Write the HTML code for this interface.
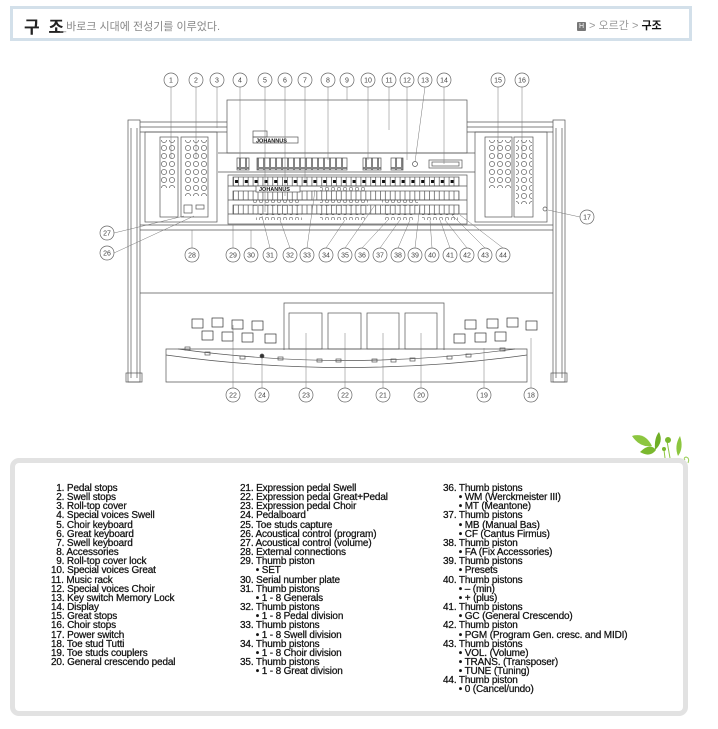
<!DOCTYPE html>
<html><head><meta charset="utf-8"><style>
html,body{margin:0;padding:0;background:#fff;width:718px;height:729px;overflow:hidden;position:relative;font-family:"Liberation Sans","Noto Sans CJK KR",sans-serif}
.hdr{position:absolute;left:10px;top:6px;width:676px;height:29px;border:3px solid #d3e0ea;background:#fff}
.t1{position:absolute;left:11px;top:4px;font-size:17px;font-weight:bold;color:#222;letter-spacing:2px}
.t2{position:absolute;left:47px;top:9px;font-size:11px;color:#888}
.bc{position:absolute;left:564px;top:8px;font-size:11px;color:#999}
.bc b{color:#111}
.hi{display:inline-block;width:9px;height:9px;background:#777;color:#fff;font-size:7px;line-height:9px;text-align:center;vertical-align:1px;border-radius:1px}
.lg{position:absolute;left:10px;top:458px;width:668px;height:248px;border:5px solid #e2e2e2;border-radius:9px;background:#fff}
.col{position:absolute;top:21px;font-size:10px;letter-spacing:-0.15px;line-height:9.16px;color:#111;white-space:pre;-webkit-text-stroke:0.25px #111}
</style></head><body>
<div class="hdr"><span class="t1">구 조</span><span class="t2">_바로크 시대에 전성기를 이루었다.</span><span class="bc"><span class="hi">H</span> &gt; 오르간 &gt; <b>구조</b></span></div>

<svg width="718" height="729" style="position:absolute;left:0;top:0" xmlns="http://www.w3.org/2000/svg">
<defs>
<pattern id="keys" x="233" y="0" width="9.8" height="20" patternUnits="userSpaceOnUse">
<line x1="0.5" y1="0" x2="0.5" y2="20" stroke="#333" stroke-width="0.6"/><line x1="5.4" y1="0" x2="5.4" y2="20" stroke="#333" stroke-width="0.6"/>
<rect x="2" y="0" width="3" height="3" fill="#111"/></pattern>
<pattern id="stops" x="0" y="0" width="8" height="8" patternUnits="userSpaceOnUse"><circle cx="4" cy="4" r="2.6" fill="none" stroke="#444" stroke-width="0.6"/></pattern>
<pattern id="tabs" x="0" y="0" width="6" height="12" patternUnits="userSpaceOnUse"><rect x="0.5" y="0.5" width="5" height="11" fill="none" stroke="#333" stroke-width="0.6"/></pattern>
<pattern id="pist" x="0" y="0" width="6" height="6" patternUnits="userSpaceOnUse"><circle cx="3" cy="3" r="1.8" fill="none" stroke="#444" stroke-width="0.5"/></pattern>
</defs>
<g fill="none" stroke="#555" stroke-width="0.7">
<rect x="128" y="120" width="12" height="262"/><rect x="553" y="120" width="12" height="262"/>
<line x1="131" y1="128" x2="131" y2="378"/><line x1="137" y1="128" x2="137" y2="378"/>
<line x1="556" y1="128" x2="556" y2="378"/><line x1="562" y1="128" x2="562" y2="378"/>
<rect x="126" y="373" width="16" height="9"/><rect x="551" y="373" width="16" height="9"/>
<line x1="140" y1="122" x2="553" y2="122"/><line x1="140" y1="127" x2="553" y2="127"/><line x1="140" y1="132" x2="553" y2="132"/>
<rect x="227" y="100" width="240" height="53" fill="#fff"/>
<rect x="253" y="131" width="14" height="6"/>
<rect x="253" y="137" width="45" height="6"/>
<text x="256" y="142.5" font-size="5.5" font-weight="bold" fill="#111" stroke="none" font-family="Liberation Sans">JOHANNUS</text>
<rect x="145" y="132" width="72" height="90"/><rect x="475" y="132" width="72" height="90"/>
<rect x="160" y="137" width="18" height="80"/><rect x="181" y="137" width="27" height="80"/>
<rect x="485" y="137" width="27" height="80"/><rect x="514" y="137" width="19" height="80"/>
<rect x="160" y="140" width="16" height="48" fill="url(#stops)" stroke="none"/>
<rect x="183" y="140" width="24" height="56" fill="url(#stops)" stroke="none"/>
<rect x="487" y="140" width="24" height="48" fill="url(#stops)" stroke="none"/>
<rect x="516" y="140" width="16" height="64" fill="url(#stops)" stroke="none"/>
<rect x="184" y="205" width="8" height="8"/><rect x="196" y="205" width="8" height="4"/>
<line x1="218" y1="153" x2="475" y2="153"/><line x1="218" y1="172" x2="475" y2="172"/>
<rect x="237" y="158" width="12" height="12" fill="url(#tabs)"/>
<rect x="257" y="158" width="90" height="12" fill="url(#tabs)"/>
<rect x="363" y="158" width="18" height="12" fill="url(#tabs)"/>
<rect x="391" y="158" width="12" height="12" fill="url(#tabs)"/>
<circle cx="415" cy="164" r="2.5"/>
<rect x="429" y="160" width="33" height="8"/><rect x="432" y="162" width="27" height="4"/>
<rect x="228" y="175" width="239" height="49"/>
<rect x="233" y="177" width="226" height="9" fill="url(#keys)"/>
<rect x="233" y="191" width="226" height="9" fill="url(#keys)"/>
<rect x="233" y="205" width="226" height="9" fill="url(#keys)"/>
<line x1="228" y1="186" x2="467" y2="186"/><line x1="228" y1="200" x2="467" y2="200"/><line x1="228" y1="214" x2="467" y2="214"/>
<rect x="256" y="186" width="44" height="6" fill="#fff"/>
<text x="259" y="191" font-size="5.5" font-weight="bold" fill="#111" stroke="none" font-family="Liberation Sans">JOHANNUS</text>
<rect x="253" y="200" width="48" height="6" fill="url(#pist)" stroke="none"/>
<rect x="320" y="186" width="46" height="6" fill="url(#pist)" stroke="none"/>
<rect x="320" y="200" width="48" height="6" fill="url(#pist)" stroke="none"/>
<rect x="382" y="200" width="36" height="6" fill="url(#pist)" stroke="none"/>
<rect x="256" y="214" width="46" height="6" fill="url(#pist)" stroke="none"/>
<rect x="320" y="214" width="46" height="6" fill="url(#pist)" stroke="none"/>
<rect x="384" y="214" width="30" height="6" fill="url(#pist)" stroke="none"/>
<rect x="422" y="214" width="36" height="6" fill="url(#pist)" stroke="none"/>
<line x1="140" y1="225" x2="553" y2="225"/><line x1="140" y1="230" x2="553" y2="230"/>
<circle cx="545" cy="209" r="2"/>
<line x1="140" y1="293" x2="553" y2="293"/>
<polyline points="284,350 284,303 444,303 444,350"/>
<rect x="289" y="313" width="33" height="36"/><rect x="328" y="313" width="33" height="36"/>
<rect x="367" y="313" width="32" height="36"/><rect x="405" y="313" width="32" height="36"/>
<path d="M166 349 L527 349 L527 382 L166 382 Z"/>
<path d="M166 355 Q346 380 527 355"/>
<path d="M178 349 Q346 372 515 349"/>
<g stroke="#333">
<rect x="192" y="319" width="11" height="9"/><rect x="212" y="318" width="11" height="9"/><rect x="232" y="320" width="11" height="9"/><rect x="252" y="321" width="11" height="9"/>
<rect x="202" y="331" width="11" height="9"/><rect x="222" y="332" width="11" height="9"/><rect x="242" y="333" width="11" height="9"/><rect x="265" y="334" width="11" height="9"/>
<rect x="454" y="334" width="11" height="9"/><rect x="475" y="333" width="11" height="9"/><rect x="495" y="332" width="11" height="9"/>
<rect x="465" y="320" width="11" height="9"/><rect x="487" y="319" width="11" height="9"/><rect x="507" y="318" width="11" height="9"/><rect x="526" y="321" width="11" height="9"/>
</g>
<rect x="185" y="347" width="5" height="3"/><rect x="205" y="352" width="5" height="3"/><rect x="240" y="356" width="5" height="3"/><rect x="278" y="357" width="5" height="3"/>
<rect x="317" y="359" width="5" height="3"/><rect x="336" y="359" width="5" height="3"/><rect x="372" y="359" width="5" height="3"/><rect x="391" y="359" width="5" height="3"/><rect x="410" y="358" width="5" height="3"/>
<rect x="447" y="356" width="5" height="3"/><rect x="466" y="354" width="5" height="3"/><rect x="500" y="348" width="5" height="3"/>
<circle cx="262" cy="356" r="2" fill="#333"/>
</g>
<g fill="#fff" stroke="#666" stroke-width="0.7" font-family="Liberation Sans" font-size="7">
<g stroke="#777" stroke-width="0.5">
<line x1="171" y1="87" x2="171" y2="159"/><line x1="196" y1="87" x2="196" y2="159"/><line x1="217" y1="87" x2="217" y2="128"/>
<line x1="240" y1="87" x2="240" y2="160"/><line x1="265" y1="87" x2="265" y2="212"/><line x1="285" y1="87" x2="285" y2="196"/>
<line x1="305" y1="87" x2="305" y2="183"/><line x1="328" y1="87" x2="328" y2="160"/><line x1="347" y1="87" x2="347" y2="100"/>
<line x1="368" y1="87" x2="368" y2="160"/><line x1="389" y1="87" x2="389" y2="130"/><line x1="407" y1="87" x2="407" y2="160"/>
<line x1="425" y1="87" x2="415" y2="162"/><line x1="444" y1="87" x2="444" y2="164"/><line x1="498" y1="87" x2="498" y2="159"/><line x1="522" y1="87" x2="522" y2="159"/>
<line x1="114" y1="233" x2="184" y2="216"/><line x1="114" y1="253" x2="194" y2="216"/><line x1="192" y1="248" x2="192" y2="230"/>
<line x1="580" y1="217" x2="548" y2="210"/>
<line x1="233" y1="248" x2="233" y2="225"/><line x1="251" y1="248" x2="251" y2="230"/><line x1="270" y1="248" x2="262" y2="216"/>
<line x1="290" y1="248" x2="280" y2="220"/><line x1="307" y1="248" x2="315" y2="190"/><line x1="326" y1="248" x2="345" y2="220"/>
<line x1="345" y1="248" x2="375" y2="205"/><line x1="362" y1="248" x2="388" y2="220"/><line x1="380" y1="248" x2="400" y2="220"/>
<line x1="398" y1="248" x2="410" y2="220"/><line x1="415" y1="248" x2="420" y2="205"/><line x1="432" y1="248" x2="430" y2="220"/>
<line x1="450" y1="248" x2="440" y2="220"/><line x1="467" y1="248" x2="445" y2="220"/><line x1="485" y1="248" x2="452" y2="215"/><line x1="503" y1="248" x2="460" y2="215"/>
<line x1="233" y1="388" x2="233" y2="325"/><line x1="262" y1="388" x2="262" y2="358"/><line x1="306" y1="388" x2="306" y2="333"/>
<line x1="345" y1="388" x2="345" y2="333"/><line x1="383" y1="388" x2="383" y2="333"/><line x1="421" y1="388" x2="421" y2="333"/>
<line x1="484" y1="388" x2="484" y2="348"/><line x1="531" y1="388" x2="531" y2="338"/>
</g>
<g>
<circle cx="171" cy="80" r="7"/><circle cx="196" cy="80" r="7"/><circle cx="217" cy="80" r="7"/><circle cx="240" cy="80" r="7"/><circle cx="265" cy="80" r="7"/><circle cx="285" cy="80" r="7"/><circle cx="305" cy="80" r="7"/><circle cx="328" cy="80" r="7"/><circle cx="347" cy="80" r="7"/><circle cx="368" cy="80" r="7"/><circle cx="389" cy="80" r="7"/><circle cx="407" cy="80" r="7"/><circle cx="425" cy="80" r="7"/><circle cx="444" cy="80" r="7"/><circle cx="498" cy="80" r="7"/><circle cx="522" cy="80" r="7"/>
<circle cx="107" cy="233" r="7"/><circle cx="107" cy="253" r="7"/><circle cx="192" cy="255" r="7"/><circle cx="587" cy="217" r="7"/>
<circle cx="233" cy="255" r="7"/><circle cx="251" cy="255" r="7"/><circle cx="270" cy="255" r="7"/><circle cx="290" cy="255" r="7"/><circle cx="307" cy="255" r="7"/><circle cx="326" cy="255" r="7"/><circle cx="345" cy="255" r="7"/><circle cx="362" cy="255" r="7"/><circle cx="380" cy="255" r="7"/><circle cx="398" cy="255" r="7"/><circle cx="415" cy="255" r="7"/><circle cx="432" cy="255" r="7"/><circle cx="450" cy="255" r="7"/><circle cx="467" cy="255" r="7"/><circle cx="485" cy="255" r="7"/><circle cx="503" cy="255" r="7"/>
<circle cx="233" cy="395" r="7"/><circle cx="262" cy="395" r="7"/><circle cx="306" cy="395" r="7"/><circle cx="345" cy="395" r="7"/><circle cx="383" cy="395" r="7"/><circle cx="421" cy="395" r="7"/><circle cx="484" cy="395" r="7"/><circle cx="531" cy="395" r="7"/>
</g>
<g fill="#444" stroke="none" text-anchor="middle">
<text x="171" y="82.5">1</text><text x="196" y="82.5">2</text><text x="217" y="82.5">3</text><text x="240" y="82.5">4</text><text x="265" y="82.5">5</text><text x="285" y="82.5">6</text><text x="305" y="82.5">7</text><text x="328" y="82.5">8</text><text x="347" y="82.5">9</text><text x="368" y="82.5">10</text><text x="389" y="82.5">11</text><text x="407" y="82.5">12</text><text x="425" y="82.5">13</text><text x="444" y="82.5">14</text><text x="498" y="82.5">15</text><text x="522" y="82.5">16</text>
<text x="107" y="235.5">27</text><text x="107" y="255.5">26</text><text x="192" y="257.5">28</text><text x="587" y="219.5">17</text>
<text x="233" y="257.5">29</text><text x="251" y="257.5">30</text><text x="270" y="257.5">31</text><text x="290" y="257.5">32</text><text x="307" y="257.5">33</text><text x="326" y="257.5">34</text><text x="345" y="257.5">35</text><text x="362" y="257.5">36</text><text x="380" y="257.5">37</text><text x="398" y="257.5">38</text><text x="415" y="257.5">39</text><text x="432" y="257.5">40</text><text x="450" y="257.5">41</text><text x="467" y="257.5">42</text><text x="485" y="257.5">43</text><text x="503" y="257.5">44</text>
<text x="233" y="397.5">22</text><text x="262" y="397.5">24</text><text x="306" y="397.5">23</text><text x="345" y="397.5">22</text><text x="383" y="397.5">21</text><text x="421" y="397.5">20</text><text x="484" y="397.5">19</text><text x="531" y="397.5">18</text>
</g>
</g>
<g>
<path d="M632 436 Q645 432 652 446 Q640 448 632 436Z" fill="#8cc63f"/>
<path d="M640 452 Q650 442 656 450 Q650 458 640 452Z" fill="#7ab82e"/>
<path d="M655 450 Q654 438 659 432 Q664 442 655 450Z" fill="#6fae25"/>
<path d="M678 456 Q674 446 680 436 Q684 448 678 456Z" fill="#8cc63f"/>
<line x1="667" y1="441" x2="670" y2="458" stroke="#8cc63f" stroke-width="1"/><circle cx="668" cy="440" r="3" fill="#7ab82e"/>
<line x1="664" y1="450" x2="665" y2="458" stroke="#8cc63f" stroke-width="1"/><circle cx="664" cy="449" r="2" fill="#7ab82e"/>
<path d="M688 463 q2 -5 -2 -6 q-3 1 -1 3" fill="none" stroke="#9ccf5a" stroke-width="1"/>
</g>
</svg>

<div class="lg">
<div class="col" style="left:36px">  1. Pedal stops
  2. Swell stops
  3. Roll-top cover
  4. Special voices Swell
  5. Choir keyboard
  6. Great keyboard
  7. Swell keyboard
  8. Accessories
  9. Roll-top cover lock
10. Special voices Great
11. Music rack
12. Special voices Choir
13. Key switch Memory Lock
14. Display
15. Great stops
16. Choir stops
17. Power switch
18. Toe stud Tutti
19. Toe studs couplers
20. General crescendo pedal</div>
<div class="col" style="left:225px">21. Expression pedal Swell
22. Expression pedal Great+Pedal
23. Expression pedal Choir
24. Pedalboard
25. Toe studs capture
26. Acoustical control (program)
27. Acoustical control (volume)
28. External connections
29. Thumb piston
      • SET
30. Serial number plate
31. Thumb pistons
      • 1 - 8 Generals
32. Thumb pistons
      • 1 - 8 Pedal division
33. Thumb pistons
      • 1 - 8 Swell division
34. Thumb pistons
      • 1 - 8 Choir division
35. Thumb pistons
      • 1 - 8 Great division</div>
<div class="col" style="left:428px">36. Thumb pistons
      • WM (Werckmeister III)
      • MT (Meantone)
37. Thumb pistons
      • MB (Manual Bas)
      • CF (Cantus Firmus)
38. Thumb piston
      • FA (Fix Accessories)
39. Thumb pistons
      • Presets
40. Thumb pistons
      • – (min)
      • + (plus)
41. Thumb pistons
      • GC (General Crescendo)
42. Thumb piston
      • PGM (Program Gen. cresc. and MIDI)
43. Thumb pistons
      • VOL. (Volume)
      • TRANS. (Transposer)
      • TUNE (Tuning)
44. Thumb piston
      • 0 (Cancel/undo)</div>
</div>
</body></html>
